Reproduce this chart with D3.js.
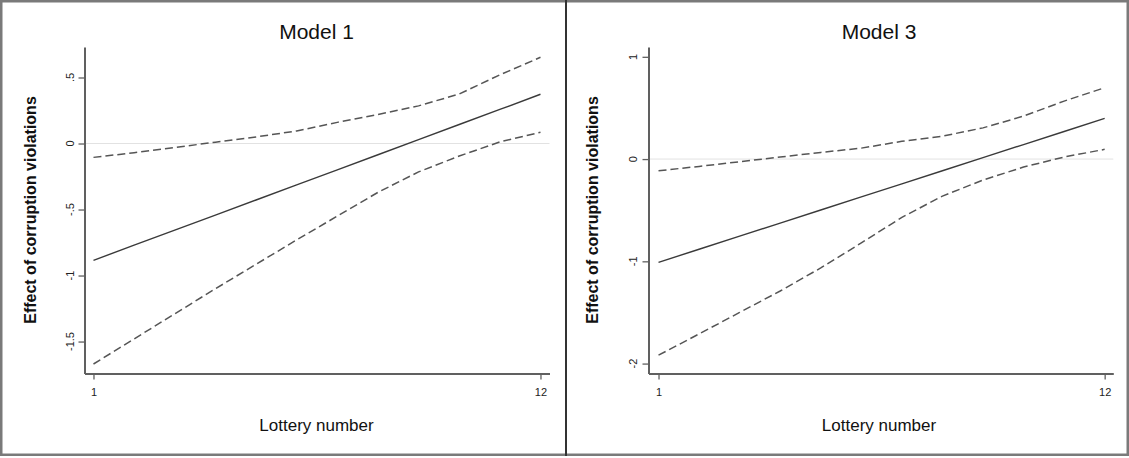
<!DOCTYPE html>
<html>
<head>
<meta charset="utf-8">
<script src="https://cdn.jsdelivr.net/npm/d3@7"></script>
<style>
  html, body { margin: 0; padding: 0; background: #fff; }
  svg { display: block; font-family: "Liberation Sans", Arial, sans-serif; }
</style>
</head>
<body>
<svg id="chart" width="1129" height="458"></svg>
<script>
// ---- data ----
const lottery = [1, 2, 3, 4, 5, 6, 7, 8, 9, 10, 11, 12];
const xTickValues = [1, 12];

const model1Effect = [-0.885, -0.77, -0.656, -0.542, -0.428, -0.313, -0.199, -0.085, 0.03, 0.144, 0.258, 0.373];
const model1Upper  = [-0.105, -0.07, -0.03, 0.01, 0.05, 0.095, 0.16, 0.22, 0.285, 0.375, 0.52, 0.653];
const model1Lower  = [-1.67, -1.48, -1.29, -1.10, -0.915, -0.73, -0.55, -0.37, -0.215, -0.095, 0.012, 0.085];
const model1YTicks = [0.5, 0, -0.5, -1, -1.5];
const model1YLabels = [".5", "0", "-.5", "-1", "-1.5"];

const model3Effect = [-1.01, -0.882, -0.754, -0.626, -0.498, -0.37, -0.242, -0.114, 0.014, 0.142, 0.27, 0.398];
const model3Upper  = [-0.114, -0.072, -0.026, 0.02, 0.065, 0.107, 0.174, 0.224, 0.305, 0.42, 0.567, 0.698];
const model3Lower  = [-1.918, -1.71, -1.50, -1.29, -1.065, -0.82, -0.57, -0.362, -0.205, -0.078, 0.02, 0.095];
const model3YTicks = [1, 0, -1, -2];
const model3YLabels = ["1", "0", "-1", "-2"];

const titles = ["Model 1", "Model 3"];
const yTitle = "Effect of corruption violations";
const xTitle = "Lottery number";

// ---- layout ----
const svg = d3.select("#chart");

// outer frame and divider
svg.append("rect").attr("x", 1.25).attr("y", 1.25).attr("width", 1126.5).attr("height", 453.5)
  .attr("fill", "none").attr("stroke", "#7a7a7a").attr("stroke-width", 2.5);
svg.append("line").attr("x1", 566).attr("x2", 566).attr("y1", 0).attr("y2", 456)
  .attr("stroke", "#333").attr("stroke-width", 2);

const panels = [
  {
    title: titles[0], effect: model1Effect, upper: model1Upper, lower: model1Lower,
    yTicks: model1YTicks, yLabels: model1YLabels,
    xDomain: [0.779, 12.222], xRange: [84.5, 549.5],
    yDomain: [-1.742, 0.731], yRange: [373.5, 47],
    yTitleX: 36, yLabelX: 74, centerX: 316.5
  },
  {
    title: titles[1], effect: model3Effect, upper: model3Upper, lower: model3Lower,
    yTicks: model3YTicks, yLabels: model3YLabels,
    xDomain: [0.753, 12.213], xRange: [648.5, 1113.3],
    yDomain: [-2.097, 1.096], yRange: [373.5, 47],
    yTitleX: 598, yLabelX: 637, centerX: 879
  }
];

panels.forEach(p => {
  const x = d3.scaleLinear().domain(p.xDomain).range(p.xRange);
  const y = d3.scaleLinear().domain(p.yDomain).range(p.yRange);
  const g = svg.append("g");

  // zero reference line
  g.append("line")
    .attr("x1", x(p.xDomain[0])).attr("x2", x(p.xDomain[1]))
    .attr("y1", y(0)).attr("y2", y(0))
    .attr("stroke", "#e2e2e2").attr("stroke-width", 1);

  // y axis
  const yAxis = d3.axisLeft(y).tickValues(p.yTicks).tickSize(6).tickSizeOuter(0)
    .tickFormat((d, i) => p.yLabels[i]);
  const ya = g.append("g").attr("transform", `translate(${x(p.xDomain[0])},0)`).call(yAxis);
  ya.select(".domain").attr("stroke", "#606060").attr("stroke-width", 2);
  ya.selectAll(".tick line").attr("stroke", "#606060").attr("stroke-width", 1.3);
  ya.selectAll(".tick text").remove();
  g.selectAll(".ylab").data(p.yTicks).enter().append("text")
    .attr("class", "ylab")
    .attr("transform", (d) => `translate(${p.yLabelX},${y(d)}) rotate(-90)`)
    .attr("text-anchor", "middle")
    .attr("font-size", 11).attr("fill", "#222")
    .text((d, i) => p.yLabels[i]);

  // x axis
  const xAxis = d3.axisBottom(x).tickValues(xTickValues).tickSize(6).tickSizeOuter(0)
    .tickFormat(d3.format("d"));
  const xa = g.append("g").attr("transform", `translate(0,${y(p.yDomain[0])})`).call(xAxis);
  xa.select(".domain").attr("stroke", "#606060").attr("stroke-width", 2);
  xa.selectAll(".tick line").attr("stroke", "#606060").attr("stroke-width", 1.3);
  xa.selectAll(".tick text").attr("font-size", 11).attr("fill", "#222")
    .attr("font-family", "Liberation Sans, Arial, sans-serif").attr("dy", null).attr("y", 22);

  // lines
  const line = d3.line().x((d, i) => x(lottery[i])).y(d => y(d));
  g.append("path").datum(p.upper).attr("d", line)
    .attr("fill", "none").attr("stroke", "#555").attr("stroke-width", 1.5)
    .attr("stroke-dasharray", "8,4");
  g.append("path").datum(p.lower).attr("d", line)
    .attr("fill", "none").attr("stroke", "#555").attr("stroke-width", 1.5)
    .attr("stroke-dasharray", "8,4");
  g.append("path").datum(p.effect).attr("d", line)
    .attr("fill", "none").attr("stroke", "#3a3a3a").attr("stroke-width", 1.4);

  // titles
  g.append("text").attr("x", p.centerX).attr("y", 39)
    .attr("text-anchor", "middle").attr("font-size", 21).attr("fill", "#111")
    .text(p.title);
  g.append("text").attr("x", p.centerX).attr("y", 431)
    .attr("text-anchor", "middle").attr("font-size", 17).attr("fill", "#111")
    .text(xTitle);
  g.append("text")
    .attr("transform", `translate(${p.yTitleX},210) rotate(-90)`)
    .attr("text-anchor", "middle").attr("font-size", 16).attr("font-weight", "bold")
    .attr("fill", "#111")
    .text(yTitle);
});
</script>
</body>
</html>
